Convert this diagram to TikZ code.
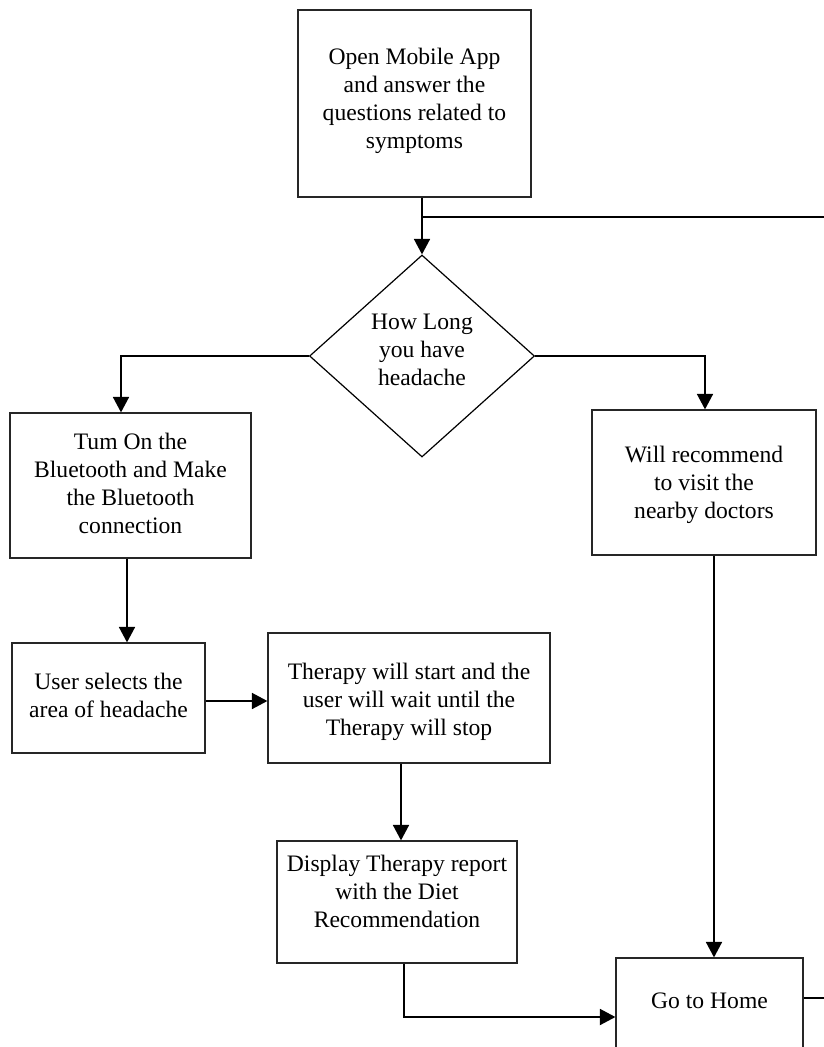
\documentclass[tikz,border=0pt]{standalone}
\usepackage{fontspec}
\setmainfont{Liberation Serif}
\usetikzlibrary{shapes.geometric,arrows.meta}
\newcommand{\boxlines}[2]{\raisebox{#1}[\height][\depth]{\begin{tabular}{@{}c@{}}#2\end{tabular}}}
\tikzset{
  flowbox/.style={draw=black!85, line width=1.2pt, rectangle, inner sep=0pt, font=\fontsize{23.6}{28}\selectfont},
  decision/.style={draw=black, line width=1.2pt, diamond, inner sep=0pt, font=\fontsize{23.6}{28}\selectfont},
  conn/.style={line width=1.8pt, -{Triangle[length=15.5pt,width=16pt]}},
  plain/.style={line width=1.8pt}
}
\begin{document}
\begin{tikzpicture}[x=1pt,y=-1pt]
\path[use as bounding box, clip] (0,0) rectangle (824,1047);
\fill[white] (0,0) rectangle (824,1047);

\node[flowbox, minimum width=233pt, minimum height=187pt] (open) at (414.5,103.5)
  {\boxlines{3pt}{Open Mobile App\\ and answer the\\ questions related to\\ symptoms}};
\node[decision, minimum width=225pt, minimum height=202pt] (dia) at (422,356)
  {\boxlines{4pt}{How Long\\ you have\\ headache}};
\node[flowbox, minimum width=241pt, minimum height=145pt] (tum) at (130.5,485.5)
  {\boxlines{0pt}{Tum On the\\ Bluetooth and Make\\ the Bluetooth\\ connection}};
\node[flowbox, minimum width=224pt, minimum height=145pt] (doc) at (704,482.5)
  {\boxlines{-2pt}{Will recommend\\ to visit the\\ nearby doctors}};
\node[flowbox, minimum width=193pt, minimum height=110pt] (user) at (108.5,698)
  {\boxlines{0pt}{User selects the\\ area of headache}};
\node[flowbox, minimum width=282pt, minimum height=130pt] (ther) at (409,698)
  {\boxlines{-4pt}{Therapy will start and the\\ user will wait until the\\ Therapy will stop}};
\node[flowbox, minimum width=240pt, minimum height=122pt] (disp) at (397,902)
  {\boxlines{8pt}{Display Therapy report\\ with the Diet\\ Recommendation}};
\node[flowbox, minimum width=187pt, minimum height=118pt] (home) at (709.5,1017)
  {\boxlines{14pt}{Go to Home}};

\coordinate (topright) at (824,217);
\coordinate (homeout) at (824,998);

% top box to decision
\draw[conn] (open.south -| dia.north) -- (dia.north);
\draw[plain] (dia.north |- topright) -- (topright);
% decision branches
\draw[conn] (dia.west) -| ([xshift=-9.5pt]tum.north);
\draw[conn] (dia.east) -| ([xshift=1pt]doc.north);
% left chain
\draw[conn] ([xshift=-3.5pt]tum.south) -- ([xshift=-3.5pt]tum.south |- user.north);
\draw[conn] ([yshift=-3pt]user.east) -- ([yshift=-3pt]user.east -| ther.west);
\draw[conn] ([xshift=-8pt]ther.south) -- ([xshift=-8pt]ther.south |- disp.north);
\draw[conn] ([xshift=7pt]disp.south) |- (home.west);
% right chain
\draw[conn] ([xshift=10pt]doc.south) -- ([xshift=10pt]doc.south |- home.north);
\draw[plain] ([yshift=19pt]home.east) -- (homeout);
\end{tikzpicture}
\end{document}
